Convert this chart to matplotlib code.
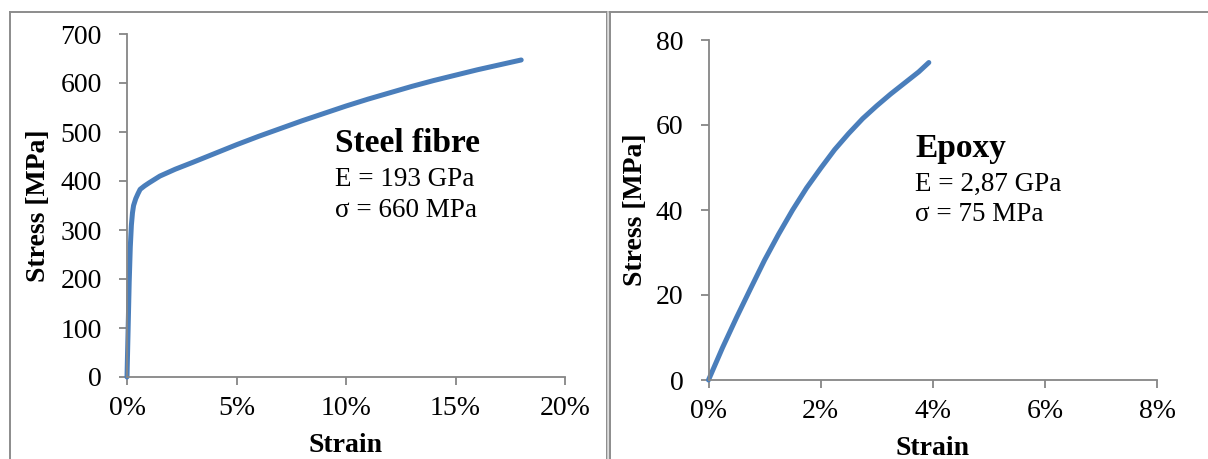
import numpy as np
import matplotlib
matplotlib.use("Agg")
from matplotlib import pyplot as plt
from matplotlib.lines import Line2D
from matplotlib.ticker import FuncFormatter

# data (strain in %, stress in MPa)
steel_strain = [0, 0.05, 0.1, 0.15, 0.2, 0.25, 0.3, 0.4, 0.5, 0.6, 0.8, 1.0, 1.5, 2.2, 3,
                4, 5, 6, 7, 8, 9, 10, 11, 12, 13, 14, 15, 16, 17, 18]
steel_stress = [0, 96, 193, 265, 310, 335, 350, 364, 374, 383, 390, 396, 410, 424, 438,
                456, 474, 491, 507, 523, 538, 553, 567, 580, 593, 605, 616, 627, 637, 647]

epoxy_strain = [0, 0.25, 0.5, 0.75, 1.0, 1.25, 1.5, 1.75, 2.0, 2.25, 2.5, 2.75, 3.0, 3.25,
                3.5, 3.75, 3.93]
epoxy_stress = [0, 7.6, 14.7, 21.5, 28.2, 34.3, 40.0, 45.2, 49.8, 54.2, 58.0, 61.5, 64.5,
                67.3, 69.9, 72.5, 74.7]

steel_xticks = [0, 5, 10, 15, 20]
steel_yticks = [0, 100, 200, 300, 400, 500, 600, 700]
epoxy_xticks = [0, 2, 4, 6, 8]
epoxy_yticks = [0, 20, 40, 60, 80]

steel_text = ["Steel fibre", "E = 193 GPa", "\u03c3 = 660 MPa"]
epoxy_text = ["Epoxy", "E = 2,87 GPa", "\u03c3 = 75 MPa"]

plt.rcParams['font.family'] = ['Liberation Serif', 'DejaVu Serif']
BLUE = "#4a7ebb"
GREY = "#868686"

W, H = 1208, 459
fig = plt.figure(figsize=(W / 100, H / 100), dpi=100)


def px_axes(x0, y0, x1, y1):
    # axes box from pixel corners (top-left origin)
    return fig.add_axes([x0 / W, 1 - y1 / H, (x1 - x0) / W, (y1 - y0) / H])


def style(ax, xticks, yticks, ylabelpad):
    for s in ("top", "right"):
        ax.spines[s].set_visible(False)
    for s in ("left", "bottom"):
        ax.spines[s].set_color(GREY)
        ax.spines[s].set_linewidth(1.3)
    ax.set_xticks(xticks)
    ax.set_yticks(yticks)
    ax.set_xlim(xticks[0], xticks[-1])
    ax.set_ylim(yticks[0], yticks[-1])
    ax.xaxis.set_major_formatter(FuncFormatter(lambda v, p: "%d%%" % v))
    ax.tick_params(axis="both", direction="out", length=6, width=1.3, color=GREY,
                   labelsize=20)
    ax.tick_params(axis="y", pad=12)
    ax.tick_params(axis="x", pad=8)
    ax.set_xlabel("Strain", fontsize=20, fontweight="bold", labelpad=8)
    ax.set_ylabel("Stress [MPa]", fontsize=20, fontweight="bold", labelpad=ylabelpad)


def note(ax, x, y, lines):
    ax.text(x, y, lines[0], transform=fig.transFigure, fontsize=24,
            fontweight="bold", va="center")
    ax.text(x, y - 36 / H, lines[1], transform=fig.transFigure, fontsize=19.5, va="center")
    ax.text(x, y - 67 / H, lines[2], transform=fig.transFigure, fontsize=19.5, va="center")


ax1 = px_axes(127, 34, 565, 377)
ax1.plot(steel_strain, steel_stress, color=BLUE, lw=3.6, solid_capstyle="round",
         solid_joinstyle="round", clip_on=False)
style(ax1, steel_xticks, steel_yticks, 7)
note(ax1, 335 / W, 1 - 143 / H, steel_text)

ax2 = px_axes(708.5, 40, 1157, 380)
ax2.plot(epoxy_strain, epoxy_stress, color=BLUE, lw=3.6, solid_capstyle="round",
         solid_joinstyle="round", clip_on=False)
style(ax2, epoxy_xticks, epoxy_yticks, 6)
note(ax2, 915 / W, 1 - 148 / H, epoxy_text)

# panel frame lines
def fline(xs, ys, c="#8c8c8c", lw=1.4):
    fig.add_artist(Line2D([x / W for x in xs], [1 - y / H for y in ys], color=c, lw=lw))

fline([10, W], [11.5, 11.5])
fline([10, 10], [11.5, H])
fline([606.5, 606.5], [11.5, H])
fline([610, 610], [11.5, H])
fline([608.2, 608.2], [11.5, H], c="#d8d8d8", lw=1.2)

fig.savefig("out.png", dpi=100)
